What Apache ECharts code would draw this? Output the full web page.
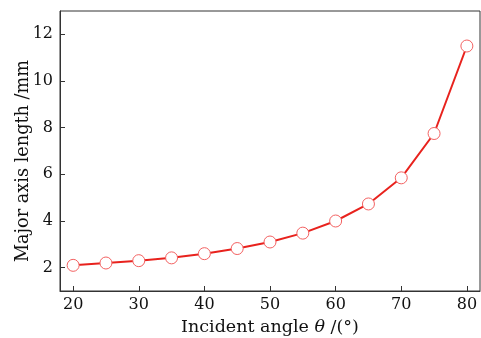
<!DOCTYPE html>
<html><head><meta charset="utf-8">
<script src="https://cdn.jsdelivr.net/npm/echarts@6/dist/echarts.min.js"></script>
<style>html,body{margin:0;padding:0;background:#fff}#c{width:481px;height:338px}</style>
</head><body><div id="c"></div>
<script>
const angles = [20,25,30,35,40,45,50,55,60,65,70,75,80];
const lengths = [2.1,2.2,2.3,2.42,2.6,2.82,3.1,3.48,4.0,4.73,5.85,7.75,11.5];
const xTicks = [20,30,40,50,60,70,80];
const yTicks = [2,4,6,8,10,12];
const font = '"DejaVu Serif", "Liberation Serif", serif';
const chart = echarts.init(document.getElementById('c'));
chart.setOption({
  animation:false,
  grid:{left:60,right:1,top:11,bottom:47,outerBoundsMode:'none',containLabel:false,show:true,borderColor:'#333',borderWidth:1},
  xAxis:{type:'value',min:18,max:82,
    name:'Incident angle {i|θ} /(°)',nameLocation:'middle',nameGap:27,nameMoveOverlap:false,
    nameTextStyle:{fontFamily:font,fontSize:17.5,color:'#111',rich:{i:{fontFamily:font,fontStyle:'italic',fontSize:17.5,color:'#111'}}},
    axisLine:{lineStyle:{color:'#333'}},splitLine:{show:false},
    axisTick:{inside:true,length:5,customValues:xTicks,lineStyle:{color:'#333'}},
    axisLabel:{customValues:xTicks,fontFamily:font,fontSize:16,color:'#111',margin:6}},
  yAxis:{type:'value',min:1,max:13,
    name:'Major axis length /mm',nameLocation:'middle',nameGap:28,nameMoveOverlap:false,
    nameTextStyle:{fontFamily:font,fontSize:17.7,color:'#111',padding:[0,20,0,0]},
    axisLine:{lineStyle:{color:'#333'}},splitLine:{show:false},
    axisTick:{inside:true,length:5,customValues:yTicks,lineStyle:{color:'#333'}},
    axisLabel:{customValues:yTicks,fontFamily:font,fontSize:16,color:'#111',margin:7}},
  series:[{type:'line',data:angles.map((a,i)=>[a,lengths[i]]),
    lineStyle:{color:'#e8221d',width:2},symbol:'circle',symbolSize:12,
    itemStyle:{color:'#fff',borderColor:'#f26060',borderWidth:1}}]
});
</script></body></html>
